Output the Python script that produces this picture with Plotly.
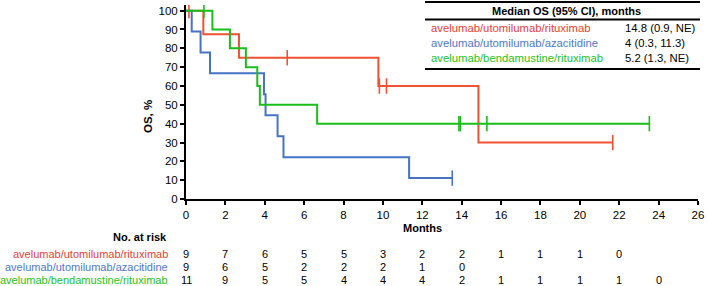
import plotly.graph_objects as go

# ---------------- data ----------------
series_names = ["avelumab/utomilumab/rituximab",
                "avelumab/utomilumab/azacitidine",
                "avelumab/bendamustine/rituximab"]
median_text = ["14.8 (0.9, NE)", "4 (0.3, 11.3)", "5.2 (1.3, NE)"]

red_t = [0, 0.88, 2.69, 9.77, 14.85, 21.67]
red_s = [100, 87.5, 75, 60, 30, 30]
red_cens_t = [0.15, 5.14, 9.82, 10.18, 21.67]
red_cens_s = [100, 75, 60, 60, 30]

blue_t = [0, 0.29, 0.74, 1.22, 3.96, 4.04, 4.65, 4.95, 11.33, 13.52]
blue_s = [100, 88.9, 77.8, 66.7, 55.6, 44.4, 33.3, 22.2, 11.1, 11.1]
blue_cens_t = [13.52]
blue_cens_s = [11.1]

green_t = [0, 1.34, 2.23, 3.04, 3.62, 3.75, 6.66, 23.53]
green_s = [100, 90, 80, 70, 60, 50, 40, 40]
green_cens_t = [0.91, 13.86, 13.93, 15.28, 23.53]
green_cens_s = [100, 40, 40, 40, 40]

risk_times = [0, 2, 4, 6, 8, 10, 12, 14, 16, 18, 20, 22, 24, 26]
red_risk = [9, 7, 6, 5, 5, 3, 2, 2, 1, 1, 1, 0]
blue_risk = [9, 6, 5, 2, 2, 2, 1, 0]
green_risk = [11, 9, 5, 5, 4, 4, 4, 2, 1, 1, 1, 1, 0]

x_ticks = list(range(0, 27, 2))
y_ticks = list(range(0, 101, 10))

# ---------------- style ----------------
colors = ["rgb(240,82,50)", "rgb(70,115,195)", "rgb(25,190,25)"]
text_colors = ["rgb(232,65,55)", "rgb(80,120,200)", "rgb(35,195,35)"]
FONT = "Liberation Sans, Arial, sans-serif"

W, H = 708, 286
L, R, T, B = 186, 10, 5, 87
PW, PH = W - L - R, H - T - B


def px2x(px):
    return (px - L) / PW


def py2y(py):
    return (H - B - py) / PH


fig = go.Figure()

curves = [(red_t, red_s, red_cens_t, red_cens_s),
          (blue_t, blue_s, blue_cens_t, blue_cens_s),
          (green_t, green_s, green_cens_t, green_cens_s)]

for i, (t, s, ct, cs) in enumerate(curves):
    fig.add_trace(go.Scatter(x=t, y=s, mode="lines", line=dict(color=colors[i], width=2, shape="hv"),
                             showlegend=False, hoverinfo="skip"))
    fig.add_trace(go.Scatter(x=ct, y=cs, mode="markers",
                             marker=dict(symbol="line-ns", size=11, line=dict(color=colors[i], width=1.6)),
                             showlegend=False, hoverinfo="skip"))

fig.update_layout(
    width=W, height=H,
    margin=dict(l=L, r=R, t=T, b=B),
    plot_bgcolor="white", paper_bgcolor="white",
    font=dict(family=FONT, size=11.5, color="black"),
    xaxis=dict(range=[0, 26], tickvals=x_ticks, showline=True, linewidth=2, linecolor="black",
               ticks="outside", ticklen=4, tickwidth=1.5, tickcolor="black", showgrid=False,
               zeroline=False, tickfont=dict(size=11.5)),
    yaxis=dict(range=[0, 103], tickvals=y_ticks, showline=True, linewidth=2, linecolor="black",
               ticks="outside", ticklen=4, tickwidth=1.5, tickcolor="black", showgrid=False,
               zeroline=False, tickfont=dict(size=11.5)),
)

ann = []
# y title
ann.append(dict(x=px2x(148), y=py2y(117), xref="paper", yref="paper", text="<b>OS, %</b>",
                textangle=-90, showarrow=False, font=dict(size=11.5), xanchor="center", yanchor="middle"))
# Months
ann.append(dict(x=px2x(422), y=py2y(228), xref="paper", yref="paper", text="<b>Months</b>",
                showarrow=False, font=dict(size=11), xanchor="center", yanchor="middle"))
# No. at risk
ann.append(dict(x=px2x(169), y=py2y(237), xref="paper", yref="paper", text="<b>No. at risk</b>",
                showarrow=False, font=dict(size=11), xanchor="right", yanchor="middle"))

row_y = [254, 267, 280]
risks = [red_risk, blue_risk, green_risk]
for i in range(3):
    ann.append(dict(x=px2x(170), y=py2y(row_y[i]), xref="paper", yref="paper", text=series_names[i],
                    showarrow=False, font=dict(size=11, color=text_colors[i]), xanchor="right", yanchor="middle"))
    for j, v in enumerate(risks[i]):
        ann.append(dict(x=risk_times[j], y=py2y(row_y[i]), xref="x", yref="paper", text=str(v),
                        showarrow=False, font=dict(size=11), xanchor="center", yanchor="middle"))

# median table
ann.append(dict(x=px2x(566), y=py2y(11), xref="paper", yref="paper", text="<b>Median OS (95% CI), months</b>",
                showarrow=False, font=dict(size=11), xanchor="center", yanchor="middle"))
tab_y = [28, 43, 58]
for i in range(3):
    ann.append(dict(x=px2x(429), y=py2y(tab_y[i]), xref="paper", yref="paper", text=series_names[i],
                    showarrow=False, font=dict(size=11.3, color=text_colors[i]), xanchor="left", yanchor="middle"))
    ann.append(dict(x=px2x(623), y=py2y(tab_y[i]), xref="paper", yref="paper", text=median_text[i],
                    showarrow=False, font=dict(size=11.3), xanchor="left", yanchor="middle"))

shapes = []
for py in [2, 19.5, 69]:
    shapes.append(dict(type="line", xref="paper", yref="paper", x0=px2x(425), x1=px2x(700),
                       y0=py2y(py), y1=py2y(py), line=dict(color="black", width=1.8)))

fig.update_layout(annotations=ann, shapes=shapes)
fig.write_html("out.html", config={"displayModeBar": False},
               post_script="document.body.style.margin='0px';document.body.style.overflow='hidden';")
